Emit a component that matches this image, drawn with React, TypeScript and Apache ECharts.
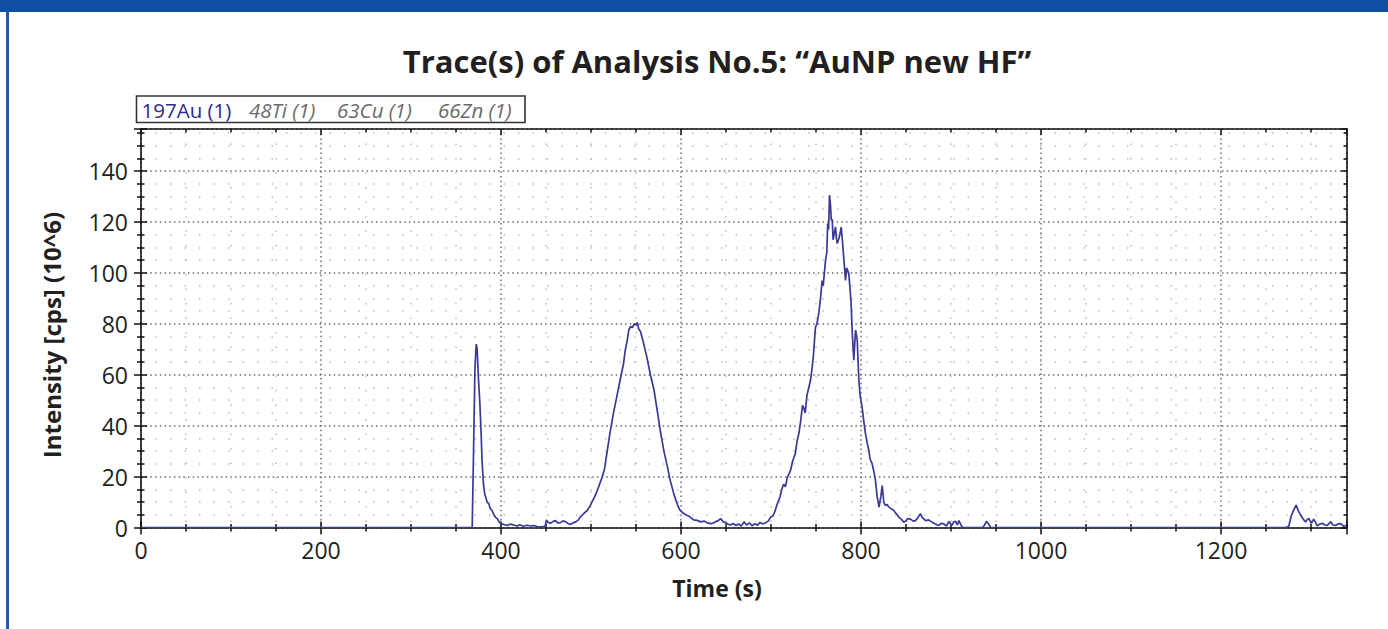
import React, { useEffect, useRef } from "react";
import * as echarts from "echarts";

// ---- data (time in s, intensity in 10^6 cps) ----
const chartTitle = "Trace(s) of Analysis No.5: \u201cAuNP new HF\u201d";
const xAxisTitle = "Time (s)";
const yAxisTitle = "Intensity [cps] (10^6)";
const legendItems = ["197Au (1)", "48Ti (1)", "63Cu (1)", "66Zn (1)"];

const baselineStart: [number, number][] = [[0, 0], [368, 0]];

const firstPeak: [number, number][] = [
  [369.5, 30], [371, 62], [372.5, 72], [373.5, 70], [375, 58], [376.5, 49], [378, 36], [379, 26],
  [380.5, 17], [382, 13], [383, 12], [384.5, 10], [386.5, 9.3], [388, 7.5], [390, 6.7], [392, 5],
  [394, 4], [396, 3.4], [398, 2.2], [400, 1.4], [403, 1.2], [407, 0.8], [410, 1.3], [414, 1],
  [418, 0.6], [421, 1.1], [425, 0.5], [429, 0.9], [433, 0.6], [436, 0.8], [440, 0.4], [445, 0.3],
  [449, 0.5],
];

const secondPeak: [number, number][] = [
  [450.5, 3], [452, 2], [455, 1.7], [458, 2.4], [460.5, 2.7], [463, 1.8], [466, 1.9], [469, 2.6],
  [472, 2.2], [475, 1.5], [477, 1.2], [480, 1.8], [483, 2.2], [486, 3], [488, 4.1], [492, 5.5],
  [495.8, 6.7], [499, 8.5], [501, 10], [504, 12], [507, 14.5], [510, 17.5], [512.4, 19.8], [515, 23],
  [518, 30], [521, 37], [525, 45], [529, 52], [533, 59], [536, 64], [538, 69.5], [540, 73],
  [542, 77.5], [544, 79], [546, 78.5], [548, 80], [550, 79.5], [551.5, 80.5], [553, 78], [555, 77],
  [558, 73], [562, 67], [566, 60], [570, 54], [574, 45], [577, 38], [581, 30], [585, 23.7],
  [588, 18.5], [592, 13.2], [596, 9], [599, 6.7], [603, 5.5], [607, 4.7], [610, 4.2], [614, 3],
  [618, 2.8], [622, 2.2], [626, 2.5], [630, 1.7], [634, 1.5], [638, 2.2], [641, 2.6], [644, 3.5],
  [647, 2.2], [650, 1.8], [653, 1.2], [655, 1], [658, 1.6], [661, 0.8], [664, 1.4], [667, 0.6],
  [670, 2.2], [673, 1], [676, 1.8], [679, 0.7], [682, 1.5], [685, 0.9], [688, 2], [691, 1.4],
  [694, 1.9], [697, 2.5],
];

const thirdPeak: [number, number][] = [
  [699.4, 4], [702, 4.5], [704, 6], [707, 9.3], [710, 12], [712, 15], [714, 17], [716, 16],
  [718, 19.5], [721.7, 22.4], [724, 26], [727, 29], [729, 34], [731, 37], [733, 42], [735, 48],
  [736.4, 47], [738, 45], [740, 52], [742, 55], [744, 58], [745.8, 63], [747, 67], [749.4, 78.7],
  [751, 80], [753, 84], [755, 90], [756.8, 97], [758, 95], [760.6, 105], [762, 108], [763, 119.4],
  [764, 117], [765, 130.5], [766, 127], [767, 120.7], [768, 121], [769, 113], [770.5, 116],
  [771.7, 118], [772.5, 114], [773.6, 111.5], [775, 113], [776.5, 115], [778, 118], [779.5, 112],
  [781, 105], [782.8, 97], [784, 102], [786.4, 99.8], [788, 93], [789, 88], [790, 78.7], [791, 72],
  [792, 65.7], [793, 72], [794, 77.5], [795.8, 73.7], [797.6, 58], [799, 52], [801.3, 47], [803, 42],
  [805, 36.8], [807, 33], [808.7, 30.3], [810, 27], [812.4, 25], [814, 22.4], [816, 18.7], [818, 12],
  [820, 8], [822, 12], [823.6, 16.5], [825.3, 10], [827, 8.7], [829, 9], [831, 8], [833, 7.5],
  [836.4, 6.7], [839, 5.5], [842, 4.1], [845, 3.2], [847.5, 2.1], [850, 2.6], [852, 3.5], [855, 3.3],
  [858, 2.5], [860.5, 2.7], [863, 3.8], [866, 5.4], [868, 4], [871.7, 2.7], [875, 3], [879, 2.1],
  [882, 1.5], [886.4, 0.8], [889, 1.6], [892, 1.4], [895, 0.6], [897.6, 2.3], [901, 0.8], [903, 2.2],
  [905, 2.4], [907, 1], [908.7, 2.7], [912, 0.3], [914, 0],
];

const tailNoise: [number, number][] = [
  [935, 0], [937, 0.8], [939.4, 2.4], [941.5, 1.5], [944, 0], [1272, 0],
];

const lastPeak: [number, number][] = [
  [1275.3, 0.5], [1278, 4.5], [1281, 7], [1283.5, 8.8], [1286, 6.5], [1289, 4.5], [1292, 3],
  [1294, 2.2], [1296, 3.2], [1297.6, 3.6], [1299, 2.5], [1300.5, 1.7], [1303, 3.3], [1305, 2],
  [1307, 0.6], [1309, 1.2], [1312.4, 1.7], [1315, 1.1], [1318, 0.8], [1320, 1.5], [1322, 2.3],
  [1324, 1.1], [1327, 0.8], [1330, 1.4], [1332.8, 1.5], [1336.4, 0.5], [1339, 0.8],
];

const xMin = 0;
const xMax = 1340;
const xInterval = 200;
const yMin = 0;
const yMax = 156.5;
const yInterval = 20;

const FONT = "'Open Sans', 'Noto Sans', sans-serif";
const TEXT = "#231f20";

export default function App() {
  const ref = useRef<HTMLDivElement>(null);

  useEffect(() => {
    if (!ref.current) return;
    const chart = echarts.init(ref.current, null, { renderer: "svg" });

    const traceData = [
      ...baselineStart,
      ...firstPeak,
      ...secondPeak,
      ...thirdPeak,
      ...tailNoise,
      ...lastPeak,
    ];

    const majorGrid = { color: "#76676a", width: 1.5, type: [1.5, 3.2] as number[] };
    const minorGrid = { color: "#c7b8b8", width: 1.5, type: [1.5, 13] as number[] };
    const axisLineStyle = { color: "#111", width: 1.6 };
    const tickStyle = { color: "#111", width: 1.5 };
    const plain = (v: number) => String(v);

    const xBase = {
      type: "value" as const,
      min: xMin,
      max: xMax,
      interval: xInterval,
      gridIndex: 0,
    };
    const yBase = {
      type: "value" as const,
      min: yMin,
      max: yMax,
      interval: yInterval,
      gridIndex: 0,
    };

    const option: any = {
      animation: false,
      backgroundColor: "#ffffff",
      textStyle: { fontFamily: FONT },
      grid: {
        left: 141,
        top: 129,
        width: 1206,
        height: 398.5,
        containLabel: false,
        outerBoundsMode: "none",
      },
      xAxis: [
        {
          ...xBase,
          position: "bottom",
          axisLine: { show: true, onZero: false, lineStyle: axisLineStyle },
          axisTick: { show: true, inside: false, length: 7, lineStyle: tickStyle },
          minorTick: { show: true, splitNumber: 4, length: 4, lineStyle: tickStyle },
          axisLabel: {
            show: true,
            margin: 11,
            fontFamily: FONT,
            fontSize: 23,
            color: TEXT,
            showMaxLabel: false,
            formatter: plain,
          },
          splitLine: { show: true, lineStyle: majorGrid },
          minorSplitLine: { show: true, lineStyle: minorGrid },
        },
        {
          ...xBase,
          position: "bottom",
          axisLine: { show: false, onZero: false },
          axisTick: { show: true, inside: true, length: 6, lineStyle: tickStyle },
          minorTick: { show: true, splitNumber: 4, length: 3.5, lineStyle: tickStyle },
          axisLabel: { show: false },
          splitLine: { show: false },
        },
        {
          ...xBase,
          position: "top",
          axisLine: { show: true, onZero: false, lineStyle: axisLineStyle },
          axisTick: { show: true, inside: true, length: 6, lineStyle: tickStyle },
          minorTick: { show: true, splitNumber: 4, length: 3.5, lineStyle: tickStyle },
          axisLabel: { show: false },
          splitLine: { show: false },
        },
      ],
      yAxis: [
        {
          ...yBase,
          position: "left",
          axisLine: { show: true, onZero: false, lineStyle: axisLineStyle },
          axisTick: { show: true, inside: false, length: 7, lineStyle: tickStyle },
          minorTick: { show: true, splitNumber: 4, length: 4, lineStyle: tickStyle },
          axisLabel: {
            show: true,
            margin: 13,
            fontFamily: FONT,
            fontSize: 23,
            color: TEXT,
            showMaxLabel: false,
            formatter: plain,
          },
          splitLine: { show: true, lineStyle: majorGrid },
          minorSplitLine: { show: true, lineStyle: minorGrid },
        },
        {
          ...yBase,
          position: "left",
          axisLine: { show: false, onZero: false },
          axisTick: { show: true, inside: true, length: 6, lineStyle: tickStyle },
          minorTick: { show: true, splitNumber: 4, length: 3.5, lineStyle: tickStyle },
          axisLabel: { show: false },
          splitLine: { show: false },
        },
        {
          ...yBase,
          position: "right",
          axisLine: { show: true, onZero: false, lineStyle: axisLineStyle },
          axisTick: { show: true, inside: true, length: 6, lineStyle: tickStyle },
          minorTick: { show: true, splitNumber: 4, length: 3.5, lineStyle: tickStyle },
          axisLabel: { show: false },
          splitLine: { show: false },
        },
      ],
      series: [
        {
          name: legendItems[0],
          type: "line",
          xAxisIndex: 0,
          yAxisIndex: 0,
          data: traceData,
          showSymbol: false,
          symbol: "none",
          smooth: false,
          lineStyle: { color: "#3a3a96", width: 1.7 },
          z: 5,
        },
      ],
      graphic: [
        // page frame
        { type: "rect", left: 0, top: 0, shape: { width: 1388, height: 12 }, style: { fill: "#0d4ea2" }, silent: true },
        { type: "rect", left: 6, top: 12, shape: { width: 3, height: 617 }, style: { fill: "#1b5db2" }, silent: true },
        // title
        {
          type: "text",
          x: 717,
          y: 61,
          style: {
            text: chartTitle,
            fontFamily: FONT,
            fontSize: 31,
            fontWeight: "bold",
            fill: TEXT,
            textAlign: "center",
            textVerticalAlign: "middle",
          },
        },
        // y-axis title
        {
          type: "text",
          x: 51,
          y: 335,
          rotation: Math.PI / 2,
          style: {
            text: yAxisTitle,
            fontFamily: FONT,
            fontSize: 24,
            fontWeight: "bold",
            fill: TEXT,
            textAlign: "center",
            textVerticalAlign: "middle",
          },
        },
        // x-axis title
        {
          type: "text",
          x: 717,
          y: 588,
          style: {
            text: xAxisTitle,
            fontFamily: FONT,
            fontSize: 23,
            fontWeight: "bold",
            fill: TEXT,
            textAlign: "center",
            textVerticalAlign: "middle",
          },
        },
        // legend box
        {
          type: "rect",
          shape: { x: 136.5, y: 96, width: 388.5, height: 26.5 },
          style: { fill: "#ffffff", stroke: "#333333", lineWidth: 1.6 },
          z: 10,
        },
        {
          type: "text",
          x: 141.5,
          y: 110,
          z: 11,
          style: {
            text: legendItems[0],
            fontFamily: FONT,
            fontSize: 20.5,
            fill: "#2c2c8c",
            textVerticalAlign: "middle",
          },
        },
        {
          type: "text",
          x: 249,
          y: 110,
          z: 11,
          style: {
            text: legendItems[1],
            fontFamily: FONT,
            fontSize: 20.5,
            fontStyle: "italic",
            fill: "#6a6a6a",
            textVerticalAlign: "middle",
          },
        },
        {
          type: "text",
          x: 337,
          y: 110,
          z: 11,
          style: {
            text: legendItems[2],
            fontFamily: FONT,
            fontSize: 20.5,
            fontStyle: "italic",
            fill: "#6a6a6a",
            textVerticalAlign: "middle",
          },
        },
        {
          type: "text",
          x: 438,
          y: 110,
          z: 11,
          style: {
            text: legendItems[3],
            fontFamily: FONT,
            fontSize: 20.5,
            fontStyle: "italic",
            fill: "#6a6a6a",
            textVerticalAlign: "middle",
          },
        },
      ],
    };

    chart.setOption(option);
    return () => {
      chart.dispose();
    };
  }, []);

  return (
    <div
      ref={ref}
      style={{ position: "fixed", left: 0, top: 0, width: 1388, height: 629, background: "#fff" }}
    />
  );
}
